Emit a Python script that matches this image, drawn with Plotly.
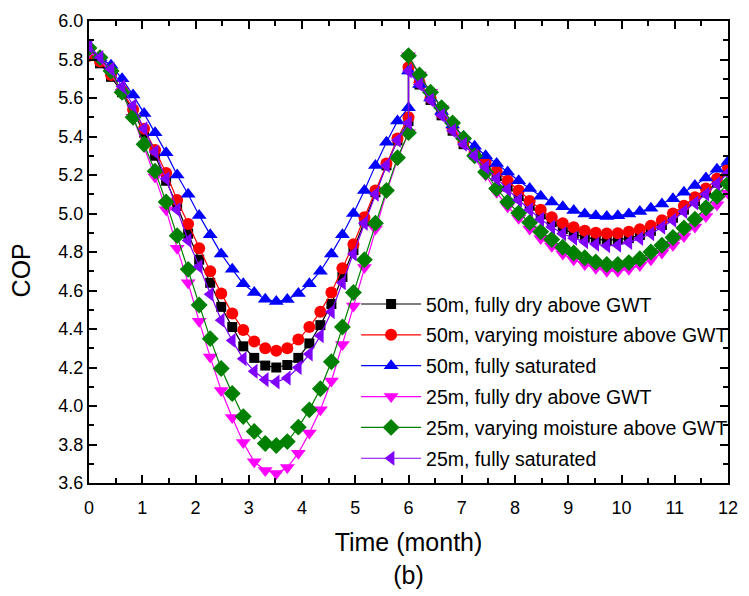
import plotly.graph_objects as go

# Time (month): two 6-month halves sampled on the same grid
time_first = [0.0, 0.207, 0.414, 0.621, 0.828, 1.034, 1.241, 1.448, 1.655, 1.862,
              2.069, 2.276, 2.483, 2.690, 2.897, 3.103, 3.310, 3.517, 3.724, 3.931,
              4.138, 4.345, 4.552, 4.759, 4.966, 5.172, 5.379, 5.586, 5.793, 6.0]
time_second = [6.0, 6.207, 6.414, 6.621, 6.828, 7.034, 7.241, 7.448, 7.655, 7.862,
               8.069, 8.276, 8.483, 8.690, 8.897, 9.103, 9.310, 9.517, 9.724, 9.931,
               10.138, 10.345, 10.552, 10.759, 10.966, 11.172, 11.379, 11.586, 11.793, 12.0]
time_month = time_first + time_second

series_names = [
    "50m, fully dry above GWT",
    "50m, varying moisture above GWT",
    "50m, fully saturated",
    "25m, fully dry above GWT",
    "25m, varying moisture above GWT",
    "25m, fully saturated",
]

cop_50_dry = [5.82, 5.78, 5.71, 5.63, 5.53, 5.42, 5.30, 5.17, 5.04, 4.895,
              4.76, 4.64, 4.515, 4.41, 4.31, 4.25, 4.21, 4.20, 4.213, 4.25,
              4.325, 4.42, 4.53, 4.67, 4.81, 4.96, 5.11, 5.25, 5.38, 5.48,
              5.75, 5.67, 5.59, 5.51, 5.43, 5.36, 5.305, 5.25, 5.195, 5.14,
              5.09, 5.04, 4.995, 4.955, 4.92, 4.895, 4.877, 4.866, 4.862, 4.864,
              4.872, 4.888, 4.91, 4.94, 4.978, 5.02, 5.065, 5.11, 5.16, 5.22]
cop_50_vary = [5.82, 5.79, 5.72, 5.64, 5.54, 5.44, 5.33, 5.21, 5.07, 4.945,
               4.82, 4.70, 4.585, 4.48, 4.395, 4.335, 4.30, 4.287, 4.30, 4.345,
               4.41, 4.49, 4.59, 4.715, 4.84, 4.98, 5.12, 5.26, 5.39, 5.50,
               5.76, 5.68, 5.60, 5.52, 5.44, 5.37, 5.32, 5.27, 5.22, 5.17,
               5.12, 5.065, 5.02, 4.98, 4.95, 4.928, 4.91, 4.90, 4.896, 4.898,
               4.905, 4.918, 4.937, 4.965, 5.00, 5.04, 5.085, 5.13, 5.18, 5.24]
cop_50_sat = [5.85, 5.81, 5.77, 5.70, 5.615, 5.52, 5.42, 5.315, 5.20, 5.10,
              4.99, 4.89, 4.79, 4.71, 4.635, 4.59, 4.555, 4.543, 4.553, 4.585,
              4.635, 4.70, 4.79, 4.89, 5.00, 5.12, 5.25, 5.37, 5.48, 5.55,
              5.74, 5.67, 5.60, 5.53, 5.46, 5.40, 5.35, 5.30, 5.26, 5.215,
              5.17, 5.13, 5.09, 5.06, 5.035, 5.015, 4.998, 4.988, 4.984, 4.988,
              4.998, 5.01, 5.027, 5.05, 5.077, 5.11, 5.145, 5.185, 5.23, 5.27]
cop_25_dry = [5.84, 5.80, 5.73, 5.63, 5.50, 5.35, 5.19, 5.02, 4.82, 4.64,
              4.44, 4.255, 4.08, 3.94, 3.81, 3.71, 3.665, 3.65, 3.68, 3.755,
              3.86, 3.98, 4.13, 4.32, 4.52, 4.72, 4.92, 5.11, 5.28, 5.42,
              5.82, 5.72, 5.63, 5.545, 5.46, 5.38, 5.29, 5.20, 5.11, 5.035,
              4.975, 4.92, 4.87, 4.83, 4.79, 4.76, 4.735, 4.715, 4.70, 4.70,
              4.71, 4.73, 4.76, 4.795, 4.835, 4.88, 4.93, 4.985, 5.045, 5.105]
cop_25_vary = [5.86, 5.81, 5.74, 5.63, 5.50, 5.36, 5.22, 5.06, 4.885, 4.71,
               4.525, 4.35, 4.195, 4.065, 3.945, 3.868, 3.805, 3.795, 3.815, 3.89,
               3.98, 4.09, 4.23, 4.41, 4.59, 4.76, 4.95, 5.12, 5.29, 5.42,
               5.82, 5.72, 5.63, 5.55, 5.47, 5.39, 5.30, 5.215, 5.13, 5.06,
               5.003, 4.953, 4.905, 4.865, 4.825, 4.795, 4.77, 4.748, 4.735, 4.735,
               4.745, 4.765, 4.80, 4.835, 4.875, 4.925, 4.97, 5.03, 5.09, 5.155]
cop_25_sat = [5.87, 5.81, 5.75, 5.66, 5.56, 5.44, 5.32, 5.18, 5.02, 4.86,
              4.725, 4.58, 4.445, 4.34, 4.245, 4.18, 4.137, 4.125, 4.145, 4.20,
              4.27, 4.365, 4.49, 4.64, 4.79, 4.95, 5.10, 5.25, 5.38, 5.47,
              5.74, 5.67, 5.59, 5.51, 5.43, 5.36, 5.30, 5.24, 5.18, 5.125,
              5.07, 5.02, 4.97, 4.93, 4.895, 4.872, 4.853, 4.84, 4.832, 4.835,
              4.85, 4.87, 4.895, 4.928, 4.965, 5.01, 5.055, 5.10, 5.155, 5.21]

x_ticks = [0, 1, 2, 3, 4, 5, 6, 7, 8, 9, 10, 11, 12]
y_ticks = [3.6, 3.8, 4.0, 4.2, 4.4, 4.6, 4.8, 5.0, 5.2, 5.4, 5.6, 5.8, 6.0]

series_values = [cop_50_dry, cop_50_vary, cop_50_sat, cop_25_dry, cop_25_vary, cop_25_sat]
colors = ["#000000", "#FF0000", "#0000FF", "#FF00FF", "#008000", "#8000FF"]
symbols = ["square", "circle", "triangle-up", "triangle-down", "diamond", "triangle-left"]
sizes = [10, 12, 13, 13, 13, 13]

FONT = "Arial, 'Liberation Sans', sans-serif"

fig = go.Figure()
for k in range(6):
    fig.add_trace(go.Scatter(
        x=time_month, y=series_values[k], name=series_names[k],
        mode="lines+markers", legendgroup="g%d" % k,
        line=dict(color=colors[k], width=1.2),
        marker=dict(symbol=symbols[k], size=sizes[k], color=colors[k],
                    line=dict(width=0)),
    ))

axis_common = dict(
    showline=True, linecolor="black", linewidth=2, mirror="ticks",
    ticks="inside", ticklen=8, tickwidth=1.5, tickcolor="black",
    showgrid=False, zeroline=False,
    tickfont=dict(family=FONT, size=18, color="black"),
)

fig.update_layout(
    width=749, height=596,
    margin=dict(l=89, r=11, t=16, b=108),
    paper_bgcolor="white", plot_bgcolor="white",
    font=dict(family=FONT, color="black"),
    xaxis=dict(range=[0, 12], tickvals=x_ticks, ticktext=[str(v) for v in x_ticks],
               ticklabelstandoff=7,
               minor=dict(dtick=0.5, tick0=0, ticks="inside", ticklen=5, tickwidth=1.5, tickcolor="black"),
               title=dict(text="Time (month)<br>(b)", font=dict(family=FONT, size=25, color="black"),
                          standoff=17),
               **axis_common),
    yaxis=dict(range=[3.6, 6.0], tickvals=y_ticks, ticktext=["%.1f" % v for v in y_ticks],
               minor=dict(dtick=0.1, tick0=3.6, ticks="inside", ticklen=5, tickwidth=1.5, tickcolor="black"),
               **axis_common),
    legend=dict(x=0.418, y=0.429, xanchor="left", yanchor="top",
                bgcolor="rgba(0,0,0,0)", borderwidth=0,
                font=dict(family=FONT, size=19.5, color="black"),
                itemwidth=60, tracegroupgap=2.5),
    annotations=[dict(text="COP", xref="paper", yref="paper", x=-0.105, y=0.46,
                      xanchor="center", yanchor="middle", textangle=-90, showarrow=False,
                      font=dict(family=FONT, size=25, color="black"))],
)

fig.write_html("out.html", config={"displayModeBar": False},
               post_script="document.body.style.margin='0';")
